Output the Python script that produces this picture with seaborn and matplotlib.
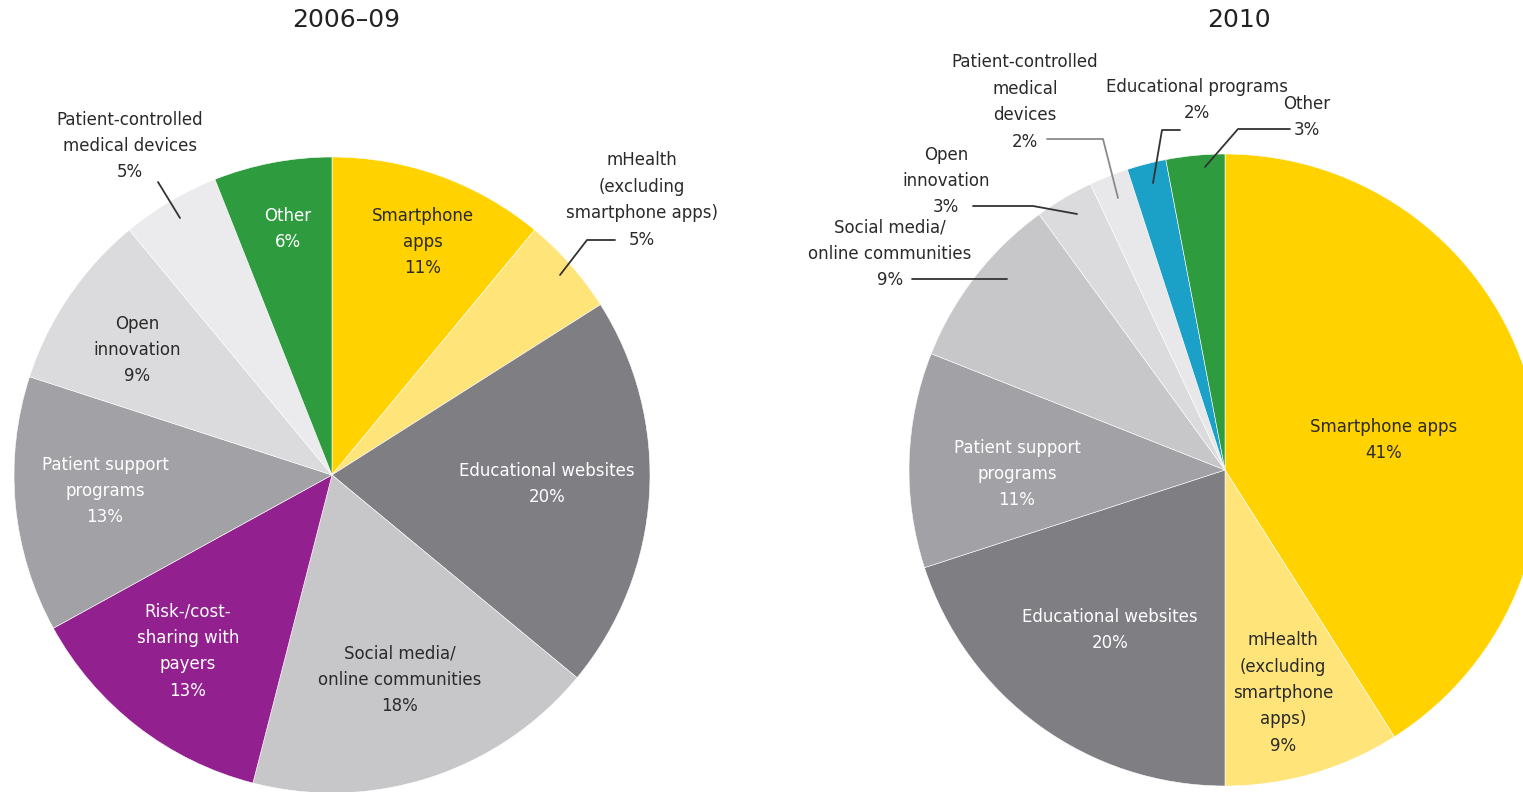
import matplotlib
matplotlib.use('Agg')
import matplotlib.pyplot as plt
import seaborn as sns

W, H = 1523, 792

# 2006-09 shares (%), clockwise from 12 o'clock
labels_0609 = ['Smartphone\napps', 'mHealth\n(excluding\nsmartphone apps)', 'Educational websites',
               'Social media/\nonline communities', 'Risk-/cost-\nsharing with\npayers',
               'Patient support\nprograms', 'Open\ninnovation', 'Patient-controlled\nmedical devices', 'Other']
share_0609 = [11, 5, 20, 18, 13, 13, 9, 5, 6]
colors_0609 = ['#FFD200', '#FFE47A', '#7F7E83', '#C7C7C9', '#92208F',
               '#A2A1A5', '#DBDBDD', '#EBEBED', '#2E9B3F']

# 2010 shares (%), clockwise from 12 o'clock
labels_2010 = ['Smartphone apps', 'mHealth\n(excluding\nsmartphone\napps)', 'Educational websites',
               'Patient support\nprograms', 'Social media/\nonline communities', 'Open\ninnovation',
               'Patient-controlled\nmedical\ndevices', 'Educational programs', 'Other']
share_2010 = [41, 9, 20, 11, 9, 3, 2, 2, 3]
colors_2010 = ['#FFD200', '#FFE47A', '#7F7E83', '#A2A1A5', '#C7C7C9',
               '#DBDBDD', '#E8E8EA', '#1BA0C7', '#2E9B3F']

sns.set_theme(style='white')
plt.rcParams['font.family'] = ['DejaVu Sans']

DARK = '#2a2a2a'
LIGHT = 'white'

# label layout in pixel coords (x, y from top), text colour, leader line (pixel points) or None
layout_0609 = [
    ((423, 242), DARK, None),
    ((642, 200), DARK, [(615, 240), (587, 240), (560, 275)]),
    ((547, 484), LIGHT, None),
    ((400, 680), DARK, None),
    ((188, 651), LIGHT, None),
    ((105, 491), LIGHT, None),
    ((137, 350), DARK, None),
    ((130, 146), DARK, [(158, 182), (180, 218)]),
    ((288, 229), LIGHT, None),
]
layout_2010 = [
    ((1384, 440), DARK, None),
    ((1283, 693), DARK, None),
    ((1110, 630), LIGHT, None),
    ((1017, 474), LIGHT, None),
    ((890, 254), DARK, [(912, 279), (1007, 279)]),
    ((946, 181), DARK, [(973, 206), (1033, 206), (1077, 214)]),
    ((1025, 102), DARK, [(1047, 139), (1103, 139), (1118, 198)]),
    ((1197, 100), DARK, [(1180, 130), (1162, 130), (1153, 183)]),
    ((1307, 117), DARK, [(1290, 129), (1238, 129), (1205, 167)]),
]

fig = plt.figure(figsize=(W / 100, H / 100), dpi=100)
ax = fig.add_axes([0, 0, 1, 1])
ax.set_xlim(0, W)
ax.set_ylim(0, H)
ax.set_aspect('equal')
ax.axis('off')


def draw(shares, labels, colors, layout, center, radius, title, title_x, faint_leader=None):
    ax.pie(shares, colors=colors, startangle=90, counterclock=False,
           center=(center[0], H - center[1]), radius=radius, frame=True,
           wedgeprops=dict(edgecolor='white', linewidth=0.4))
    for i, (lab, val, (pos, col, leader)) in enumerate(zip(labels, shares, layout)):
        ax.text(pos[0], H - pos[1], f'{lab}\n{val}%', ha='center', va='center',
                color=col, fontsize=12, linespacing=1.6)
        if leader:
            lc = '#8a8a8a' if i == faint_leader else '#333333'
            ax.plot([p[0] for p in leader], [H - p[1] for p in leader], color=lc, lw=1.3)
    ax.text(title_x, H - 20, title, ha='center', va='center', fontsize=18, color='#222222')


draw(share_0609, labels_0609, colors_0609, layout_0609, (332, 475), 318, '2006\u201309', 346)
draw(share_2010, labels_2010, colors_2010, layout_2010, (1225, 470), 316, '2010', 1239, faint_leader=6)

ax.set_xlim(0, W)
ax.set_ylim(0, H)
ax.axis('off')

fig.savefig('out.png', dpi=100)
